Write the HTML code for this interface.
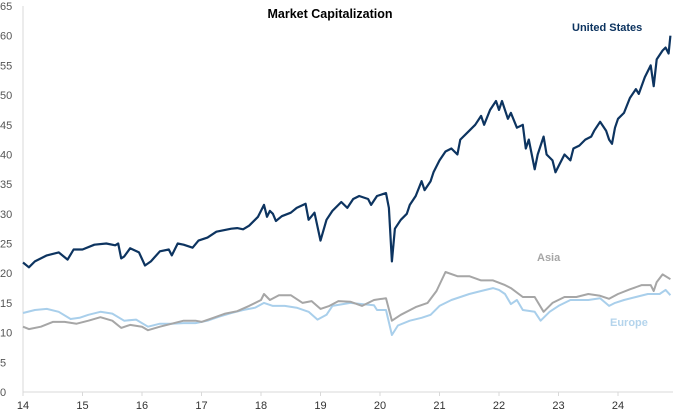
<!DOCTYPE html>
<html><head><meta charset="utf-8"><style>
body{margin:0;background:#fff;}
svg{display:block;font-family:"Liberation Sans",Arial,sans-serif;}
</style></head><body>
<svg id="chart" width="680" height="415" viewBox="0 0 680 415">
<text x="330" y="18" text-anchor="middle" font-size="12.5" font-weight="bold" fill="#000">Market Capitalization</text>
<g id="yaxis"></g>
<g id="xaxis"></g>
<g id="series"></g>
<text x="572" y="31" font-size="11" font-weight="bold" fill="#0d3460">United States</text>
<text x="537" y="261" font-size="11" font-weight="bold" fill="#a6a6a6">Asia</text>
<text x="610" y="326" font-size="11" font-weight="bold" fill="#b4d4ec">Europe</text>
</svg>
<script>
const yTicks=[0,5,10,15,20,25,30,35,40,45,50,55,60,65];
const xTicks=[14,15,16,17,18,19,20,21,22,23,24];
const usDates=[14.0,14.1,14.2,14.4,14.6,14.75,14.85,15.0,15.2,15.4,15.55,15.6,15.65,15.7,15.8,15.95,16.05,16.15,16.3,16.45,16.5,16.6,16.7,16.85,16.95,17.1,17.25,17.5,17.6,17.7,17.8,17.95,18.05,18.1,18.15,18.2,18.25,18.35,18.5,18.6,18.75,18.8,18.9,19.0,19.1,19.2,19.35,19.45,19.55,19.65,19.8,19.85,19.95,20.1,20.15,20.2,20.25,20.35,20.45,20.5,20.6,20.7,20.75,20.85,20.9,21.0,21.1,21.2,21.3,21.35,21.5,21.6,21.7,21.75,21.85,21.95,22.0,22.05,22.15,22.2,22.3,22.4,22.45,22.5,22.6,22.65,22.75,22.8,22.9,22.95,23.0,23.1,23.2,23.25,23.35,23.45,23.55,23.6,23.7,23.8,23.85,23.9,23.95,24.0,24.1,24.2,24.3,24.35,24.45,24.55,24.6,24.65,24.75,24.8,24.85,24.88];
const usValues=[21.8,21,22,23,23.5,22.3,24,24,24.8,25,24.7,25,22.5,22.8,24.2,23.5,21.3,22,23.7,24,23,25,24.8,24.3,25.5,26,27,27.5,27.6,27.4,28,29.5,31.5,29.5,30.5,30,28.8,29.6,30.2,31,31.7,29,30.2,25.5,29,30.5,32,31,32.5,33,32.5,31.5,33,33.5,31,22,27.5,29,30,31.5,33,35.5,34,35.5,37,39,40.5,41,40,42.5,44,45,46.5,45,47.5,49,47.5,49,46,47,44.5,45,41,42.5,37.5,40,43,40,39,37,38,40,39,41,41.5,42.5,43,44,45.5,44,42.5,41.8,44.5,46,47,49.5,51,50.2,53,55,51.5,56,57.5,58,57,60];
const euDates=[14.0,14.2,14.4,14.6,14.8,14.95,15.1,15.3,15.5,15.7,15.9,16.1,16.3,16.5,16.7,16.9,17.1,17.3,17.5,17.7,17.9,18.05,18.2,18.4,18.6,18.8,18.95,19.1,19.2,19.5,19.7,19.9,19.95,20.1,20.2,20.3,20.5,20.7,20.85,21.0,21.2,21.5,21.7,21.9,22.0,22.1,22.2,22.3,22.4,22.6,22.7,22.85,23.0,23.2,23.5,23.7,23.85,23.95,24.1,24.3,24.5,24.7,24.8,24.88];
const euValues=[13.3,13.8,14,13.5,12.3,12.5,13,13.5,13.2,12,12.2,11,11.5,11.5,11.6,11.6,12,12.7,13.3,13.8,14.2,15,14.5,14.5,14.2,13.5,12.2,13,14.5,15,14.8,14.6,13.8,13.8,9.6,11.2,12,12.5,13,14.5,15.5,16.5,17,17.5,17.2,16.5,14.8,15.5,13.8,13.5,12,13.5,14.5,15.5,15.5,15.8,14.5,15,15.5,16,16.5,16.5,17.2,16.3];
const asDates=[14.0,14.1,14.3,14.5,14.7,14.9,15.1,15.3,15.5,15.65,15.8,16.0,16.1,16.3,16.5,16.7,16.9,17.0,17.2,17.4,17.6,17.8,18.0,18.05,18.15,18.3,18.5,18.7,18.85,19.0,19.15,19.3,19.5,19.7,19.9,20.1,20.2,20.35,20.6,20.8,20.95,21.1,21.3,21.5,21.7,21.9,22.1,22.2,22.4,22.6,22.75,22.9,23.1,23.3,23.5,23.7,23.85,24.0,24.2,24.4,24.55,24.6,24.65,24.75,24.88];
const asValues=[11,10.6,11,11.8,11.8,11.5,12,12.6,12,10.8,11.3,11,10.4,11,11.5,12,12,11.8,12.5,13.2,13.6,14.5,15.5,16.5,15.5,16.3,16.3,15,15.3,14,14.5,15.3,15.2,14.5,15.5,15.8,12,13,14.3,15,17,20.2,19.5,19.5,18.8,18.8,18,17.5,16,16,13.5,15,16,16,16.5,16.2,15.7,16.5,17.3,18,18,17,18.5,19.8,19];
const NS="http://www.w3.org/2000/svg";
const x0=23,pxYear=59.5,y0=392,yTop=6;
const xs=v=>x0+(v-14)*pxYear;
const ys=v=>y0-(v/65)*(y0-yTop);
const ya=document.getElementById('yaxis'),xa=document.getElementById('xaxis'),sg=document.getElementById('series');
function mk(tag,attrs,parent){const e=document.createElementNS(NS,tag);for(const k in attrs)e.setAttribute(k,attrs[k]);parent.appendChild(e);return e;}
const yl=mk('line',{x1:x0,y1:yTop,x2:x0,y2:y0,stroke:'#d9d9d9','stroke-width':1},ya);


const xl=mk('line',{x1:x0,y1:y0,x2:673,y2:y0,stroke:'#d9d9d9','stroke-width':1},xa);


yTicks.forEach(t=>{
  const tx=mk('text',{x:0,y:ys(t)+4,'font-size':11,fill:'#555'},ya);
  tx.textContent=t;
  
  
});
xTicks.forEach(t=>{
  const tk=mk('line',{x1:xs(t),y1:y0,x2:xs(t),y2:y0+4,stroke:'#d9d9d9'},xa);
  
  
  const tx=mk('text',{x:xs(t),y:409,'font-size':11,fill:'#333','text-anchor':'middle'},xa);
  tx.textContent=t;
  
  
});
function line(d,v,color,w,name){
  const pts=d.map((dd,i)=>xs(dd).toFixed(1)+','+ys(v[i]).toFixed(1)).join(' ');
  const p=mk('polyline',{points:pts,fill:'none',stroke:color,'stroke-width':w,'stroke-linejoin':'round'},sg);
  
  
}
line(euDates,euValues,'#a9cfeb',2,'europe-line');
line(asDates,asValues,'#a6a6a6',2,'asia-line');
line(usDates,usValues,'#0d3460',2.2,'united-states-line');
</script>
</body></html>
